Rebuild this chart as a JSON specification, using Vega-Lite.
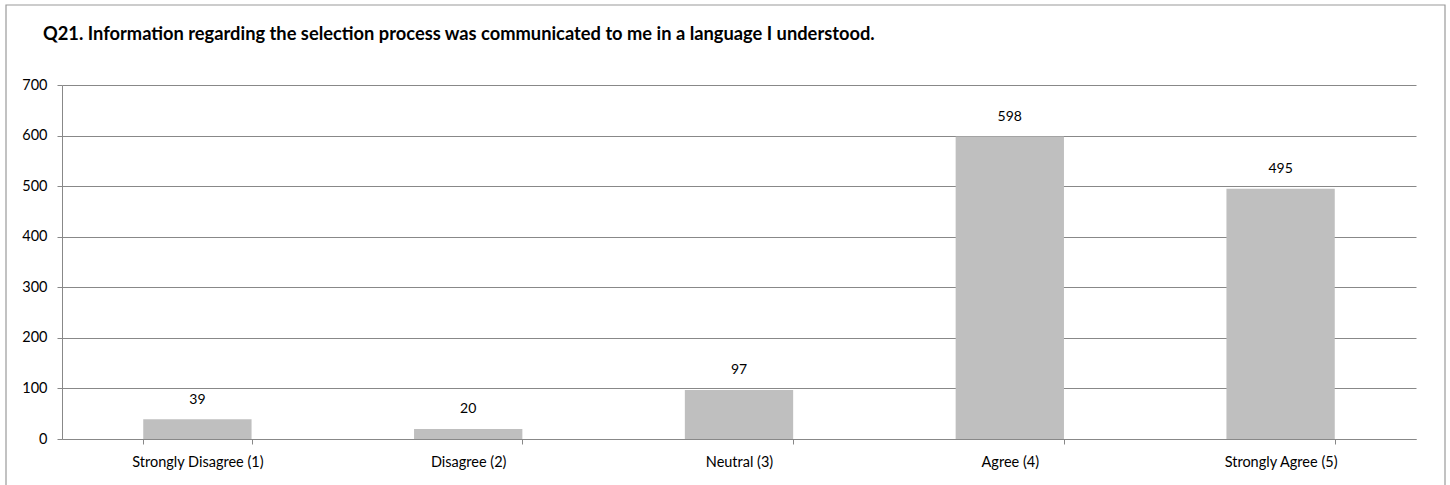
{
  "$schema": "https://vega.github.io/schema/vega-lite/v6.json",
  "autosize": {"type": "none"},
  "padding": {"left": 62, "top": 85, "right": 34, "bottom": 46},
  "width": 1354,
  "height": 354,
  "background": "white",
  "title": {
    "text": "Q21. Information regarding the selection process was communicated to me in a language I understood.",
    "anchor": "start",
    "frame": "group",
    "baseline": "middle",
    "dx": -19,
    "offset": 0,
    "dy": 49,
    "font": "Lato",
    "fontSize": 18.3,
    "fontWeight": "bold",
    "color": "#000000"
  },
  "config": {
    "view": {"stroke": null},
    "font": "Lato",
    "axis": {
      "labelFont": "Lato",
      "labelFontSize": 14.5,
      "labelColor": "#000000",
      "domainColor": "#888888",
      "tickColor": "#888888",
      "gridColor": "#888888",
      "title": null
    }
  },
  "data": {
    "values": [
      {"response": "Strongly Disagree (1)", "count": 39},
      {"response": "Disagree (2)", "count": 20},
      {"response": "Neutral (3)", "count": 97},
      {"response": "Agree (4)", "count": 598},
      {"response": "Strongly Agree (5)", "count": 495}
    ]
  },
  "encoding": {
    "x": {
      "field": "response",
      "type": "nominal",
      "sort": null,
      "scale": {"paddingInner": 0.6, "paddingOuter": 0.3},
      "axis": {
        "labelAngle": 0,
        "tickBand": "extent",
        "tickSize": 5,
        "labelPadding": 11,
        "grid": false
      }
    },
    "y": {
      "field": "count",
      "type": "quantitative",
      "scale": {"domain": [0, 700], "nice": false},
      "axis": {
        "values": [0, 100, 200, 300, 400, 500, 600, 700],
        "grid": true,
        "tickSize": 5,
        "labelPadding": 10,
        "domain": true
      }
    }
  },
  "layer": [
    {
      "mark": {"type": "bar", "color": "#bfbfbf"}
    },
    {
      "mark": {"type": "text", "baseline": "middle", "dy": -19.5, "fontSize": 14, "font": "Lato", "color": "#000000"},
      "encoding": {"text": {"field": "count", "type": "quantitative"}}
    },
    {
      "data": {"values": [{"frame": 1}]},
      "mark": {
        "type": "rect",
        "filled": false,
        "stroke": "#9a9a9a",
        "strokeWidth": 1.2,
        "xOffset": -56,
        "x2Offset": 29,
        "yOffset": -80,
        "y2Offset": 60
      },
      "encoding": {
        "x": {"value": 0},
        "x2": {"value": {"expr": "width"}},
        "y": {"value": 0},
        "y2": {"value": {"expr": "height"}}
      }
    }
  ]
}
